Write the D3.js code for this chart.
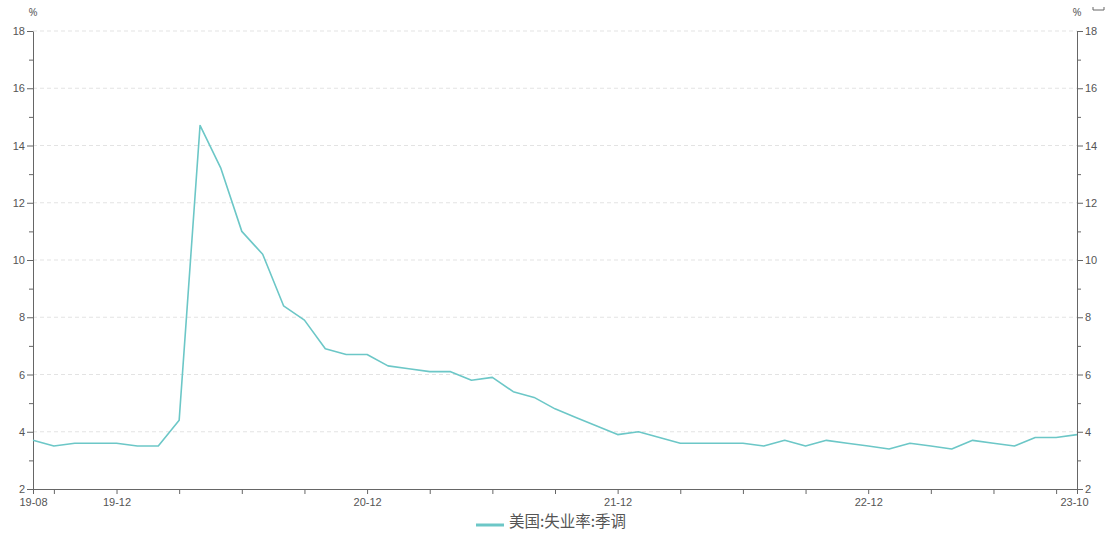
<!DOCTYPE html>
<html>
<head>
<meta charset="utf-8">
<script src="https://cdn.jsdelivr.net/npm/d3@7"></script>
<style>
  body { margin: 0; background: #fff; }
  svg { display: block; font-family: "Open Sans", "Noto Sans CJK SC", sans-serif; }
  .axis path, .axis line { stroke: #666; }
  .axis text { fill: #555; font-size: 11px; }
  .grid line { stroke: #e3e3e3; stroke-dasharray: 4 3; }
</style>
</head>
<body>
<svg width="1113" height="533"></svg>
<script>
const months = [
  '19-08', '19-09', '19-10', '19-11', '19-12',
  '20-01', '20-02', '20-03', '20-04', '20-05', '20-06', '20-07', '20-08', '20-09', '20-10', '20-11', '20-12',
  '21-01', '21-02', '21-03', '21-04', '21-05', '21-06', '21-07', '21-08', '21-09', '21-10', '21-11', '21-12',
  '22-01', '22-02', '22-03', '22-04', '22-05', '22-06', '22-07', '22-08', '22-09', '22-10', '22-11', '22-12',
  '23-01', '23-02', '23-03', '23-04', '23-05', '23-06', '23-07', '23-08', '23-09', '23-10'
];

const unemployment = [
  3.7, 3.5, 3.6, 3.6, 3.6,
  3.5, 3.5, 4.4, 14.7, 13.2, 11.0, 10.2, 8.4, 7.9, 6.9, 6.7, 6.7,
  6.3, 6.2, 6.1, 6.1, 5.8, 5.9, 5.4, 5.2, 4.8, 4.5, 4.2, 3.9,
  4.0, 3.8, 3.6, 3.6, 3.6, 3.6, 3.5, 3.7, 3.5, 3.7, 3.6, 3.5,
  3.4, 3.6, 3.5, 3.4, 3.7, 3.6, 3.5, 3.8, 3.8, 3.9
];

const seriesName = '美国:失业率:季调';
const yTicks = [2, 4, 6, 8, 10, 12, 14, 16, 18];
const xLabels = ['19-08', '19-12', '20-12', '21-12', '22-12', '23-10'];

const svg = d3.select('svg');
const plotLeft = 33, plotRight = 1077, plotTop = 31, plotBottom = 489;
const lineColor = '#6cc7c7';

const x = d3.scalePoint()
  .domain(months)
  .range([plotLeft, plotRight]);

const y = d3.scaleLinear()
  .domain([2, 18])
  .range([plotBottom, plotTop]);

// grid lines at labelled values
svg.append('g')
  .attr('class', 'grid')
  .selectAll('line')
  .data(yTicks.slice(1))
  .enter()
  .append('line')
  .attr('x1', plotLeft)
  .attr('x2', plotRight)
  .attr('y1', (d) => y(d))
  .attr('y2', (d) => y(d));

// quarter ticks plus first and last month
const xTickVals = months.filter((m, i) => i === 0 || i === months.length - 1 || +m.slice(3) % 3 === 0);
const yAll = d3.range(2, 19, 1);

const yFormat = (d) => (yTicks.includes(d) ? d : '');

const leftAxis = svg.append('g')
  .attr('class', 'axis')
  .attr('transform', `translate(${plotLeft},0)`)
  .call(d3.axisLeft(y).tickValues(yAll).tickFormat(yFormat).tickSizeOuter(0).tickPadding(2));

const rightAxis = svg.append('g')
  .attr('class', 'axis')
  .attr('transform', `translate(${plotRight},0)`)
  .call(d3.axisRight(y).tickValues(yAll).tickFormat(yFormat).tickSizeOuter(0).tickPadding(2));

leftAxis.selectAll('.tick line').attr('x2', (d) => (yTicks.includes(d) ? -6 : -4));
rightAxis.selectAll('.tick line').attr('x2', (d) => (yTicks.includes(d) ? 6 : 4));

const xAxis = svg.append('g')
  .attr('class', 'axis')
  .attr('transform', `translate(0,${plotBottom})`)
  .call(d3.axisBottom(x)
    .tickValues(xTickVals)
    .tickFormat((d) => (xLabels.includes(d) ? d : ''))
    .tickSize(5)
    .tickSizeOuter(0)
    .tickPadding(3));

xAxis.selectAll('.tick text').attr('dy', '0.85em');
xAxis.selectAll('.tick')
  .filter((d) => d === '23-10')
  .select('text')
  .attr('dx', '-3');

// unit labels
svg.append('text')
  .attr('x', plotLeft)
  .attr('y', 16)
  .attr('text-anchor', 'middle')
  .attr('fill', '#555')
  .style('font-size', '11px')
  .text('%');

svg.append('text')
  .attr('x', plotRight)
  .attr('y', 16)
  .attr('text-anchor', 'middle')
  .attr('fill', '#555')
  .style('font-size', '11px')
  .text('%');

// small toolbox mark at top right
svg.append('path')
  .attr('d', 'M1093,7 V10 H1104 V7')
  .attr('fill', 'none')
  .attr('stroke', '#666')
  .attr('stroke-width', 1);

const line = d3.line()
  .x((d, i) => x(months[i]))
  .y((d) => y(d));

svg.append('path')
  .datum(unemployment)
  .attr('fill', 'none')
  .attr('stroke', lineColor)
  .attr('stroke-width', 1.6)
  .attr('stroke-linejoin', 'round')
  .attr('d', line);

// legend
const legend = svg.append('g').attr('transform', 'translate(476,525)');
legend.append('line')
  .attr('x1', 0)
  .attr('x2', 28)
  .attr('y1', 0)
  .attr('y2', 0)
  .attr('stroke', lineColor)
  .attr('stroke-width', 3);
legend.append('text')
  .attr('x', 33)
  .attr('y', -3)
  .attr('dy', '0.35em')
  .attr('fill', '#555')
  .style('font-family', '"Noto Sans CJK SC", sans-serif')
  .style('font-size', '15.5px')
  .text(seriesName);
</script>
</body>
</html>
